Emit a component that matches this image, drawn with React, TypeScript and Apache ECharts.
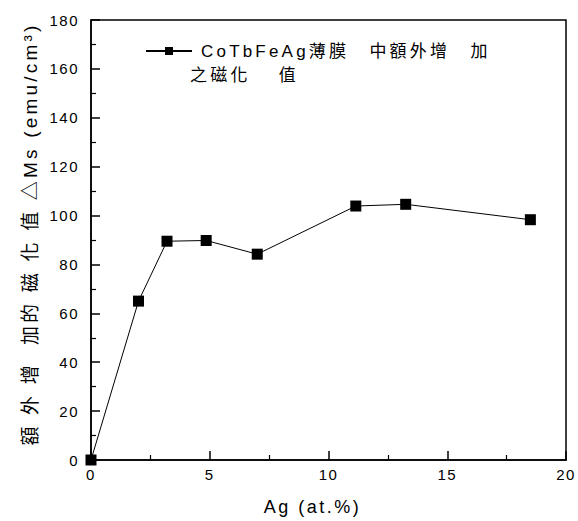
import React, { useEffect, useRef } from "react";
import * as echarts from "echarts";

const agContent = [0, 2.0, 3.2, 4.85, 7.0, 11.15, 13.25, 18.5];
const deltaMs = [0, 65, 89.5, 89.8, 84.2, 103.9, 104.6, 98.3];
const seriesName = "CoTbFeAg薄膜　中額外增　加";
const legendLine2 = "之磁化　 值";
const xAxisName = "Ag (at.%)";
const yAxisName = "額 外 增  加的 磁 化 值 △Ms (emu/cm³)";

export default function App() {
  const ref = useRef<HTMLDivElement>(null);
  useEffect(() => {
    if (!ref.current) return;
    const el = ref.current;
    const chart = echarts.init(el, null, { renderer: "svg" });
    const font = "'Liberation Sans', Arial, 'Noto Sans CJK TC', sans-serif";
    const spaceTexts = () => {
      el.querySelectorAll("text").forEach((t) => {
        const s = (t.textContent || "").trim();
        let sp = 0;
        if (/^\d+$/.test(s)) sp = 1.5;
        else if (s === xAxisName) sp = 2.5;
        else if (s === yAxisName) sp = 3.2;
        else if (s === seriesName || s === legendLine2.trim()) sp = 3.2;
        if (sp) (t as SVGTextElement).style.letterSpacing = sp + "px";
      });
    };
    chart.on("finished", spaceTexts);
    chart.setOption({
      animation: false,
      textStyle: { fontFamily: font, color: "#000" },
      grid: {
        left: 91,
        right: 12,
        top: 20,
        bottom: 59,
        show: true,
        borderColor: "#000",
        borderWidth: 1.5,
      },
      legend: {
        left: 140,
        top: 36,
        itemWidth: 46,
        itemHeight: 10,
        textStyle: {
          fontSize: 17,
          color: "#000",
          fontFamily: font,
          lineHeight: 20,
          padding: [0, 0, 0, 4],
        },
        data: [{ name: seriesName }],
      },
      graphic: [
        {
          type: "text",
          left: 190,
          top: 67,
          style: { text: legendLine2, fontSize: 17, fontFamily: font, fill: "#000" },
        },
      ],
      xAxis: {
        type: "value",
        min: 0,
        max: 20,
        interval: 5,
        name: xAxisName,
        nameLocation: "middle",
        nameGap: 38,
        nameTextStyle: { fontSize: 18, color: "#000", fontFamily: font, padding: [0, 32, 0, 0] },
        axisLine: { lineStyle: { color: "#000", width: 1.5 } },
        axisTick: { inside: true, length: 9, lineStyle: { color: "#000", width: 1.5 } },
        minorTick: { show: true, splitNumber: 2, length: 5, lineStyle: { color: "#000", width: 1.2 } },
        axisLabel: { fontSize: 15, color: "#000", margin: 7, fontFamily: font },
        splitLine: { show: false },
      },
      yAxis: {
        type: "value",
        min: 0,
        max: 180,
        interval: 20,
        name: yAxisName,
        nameLocation: "middle",
        nameGap: 51,
        nameTextStyle: { fontSize: 19, color: "#000", fontFamily: font, padding: [0, 0, 0, 12] },
        axisLine: { lineStyle: { color: "#000", width: 1.5 } },
        axisTick: { inside: true, length: 9, lineStyle: { color: "#000", width: 1.5 } },
        minorTick: { show: true, splitNumber: 2, length: 5, lineStyle: { color: "#000", width: 1.2 } },
        axisLabel: { fontSize: 15, color: "#000", margin: 12, fontFamily: font },
        splitLine: { show: false },
      },
      series: [
        {
          name: seriesName,
          type: "line",
          data: agContent.map((x, i) => [x, deltaMs[i]]),
          symbol: "rect",
          symbolSize: 11,
          itemStyle: { color: "#000" },
          lineStyle: { color: "#000", width: 1 },
          clip: false,
        },
      ],
    });
    spaceTexts();
    return () => chart.dispose();
  }, []);
  return (
    <div
      ref={ref}
      style={{ position: "fixed", left: 0, top: 0, width: 578, height: 521, background: "#fff" }}
    />
  );
}
